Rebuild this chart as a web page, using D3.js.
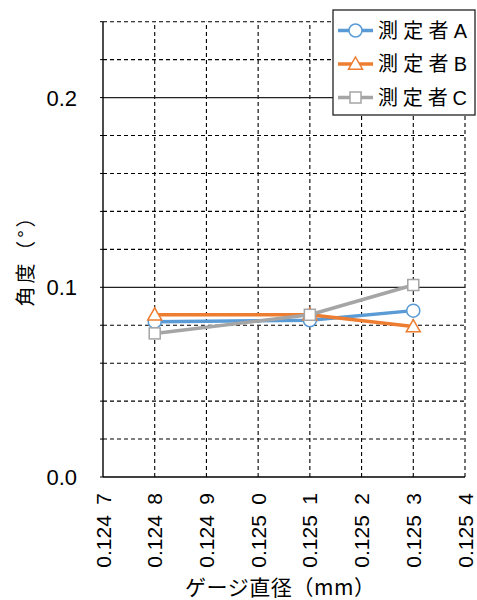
<!DOCTYPE html>
<html>
<head>
<meta charset="utf-8">
<script src="https://cdn.jsdelivr.net/npm/d3@7"></script>
<style>
  html, body { margin: 0; padding: 0; background: #fff; }
  svg { display: block; font-family: "Liberation Sans", Arial, "Noto Sans CJK JP", sans-serif; }
</style>
</head>
<body>
<script>
// Gauge diameters (mm) where each operator measured
const categories = [0.1248, 0.1251, 0.1253];
// Measured angle (°) per operator
const seriesA = [0.0819, 0.0826, 0.0877];
const seriesB = [0.0855, 0.0855, 0.0793];
const seriesC = [0.0757, 0.0855, 0.1012];
const seriesNames = ["測定者A", "測定者B", "測定者C"];
const seriesColors = ["#5B9BD5", "#ED7D31", "#A5A5A5"];
const seriesShapes = ["circle", "triangle", "square"];

// Axis ticks and their labels
const xTicks = [0.1247, 0.1248, 0.1249, 0.1250, 0.1251, 0.1252, 0.1253, 0.1254];
const xTickLabels = ["0.124 7", "0.124 8", "0.124 9", "0.125 0", "0.125 1", "0.125 2", "0.125 3", "0.125 4"];
const yMinorTicks = [0.02, 0.04, 0.06, 0.08, 0.12, 0.14, 0.16, 0.18, 0.22, 0.24];
const yMajorTicks = [0, 0.1, 0.2];
const yTickLabels = ["0.0", "0.1", "0.2"];

const W = 477, H = 600;
const svg = d3.select("body").append("svg").attr("width", W).attr("height", H);

const x = d3.scaleLinear().domain([0.1247, 0.1254]).range([103, 465]);
const y = d3.scaleLinear().domain([0, 0.24]).range([477, 21.7]);

const CJK = "'Noto Sans CJK JP', sans-serif";

// Dashed grid: vertical lines at every x tick, horizontal at every 0.02
const grid = svg.append("g");
grid.selectAll("line.vx").data(xTicks.slice(1)).join("line")
  .attr("x1", d => x(d)).attr("x2", d => x(d))
  .attr("y1", y(0)).attr("y2", y(0.24))
  .attr("stroke", "#000").attr("stroke-width", 1.1).attr("stroke-dasharray", "4,3");
grid.selectAll("line.hm").data(yMinorTicks).join("line")
  .attr("x1", x(0.1247)).attr("x2", x(0.1254))
  .attr("y1", d => y(d)).attr("y2", d => y(d))
  .attr("stroke", "#000").attr("stroke-width", 1.1).attr("stroke-dasharray", "4,3");
grid.selectAll("line.hM").data(yMajorTicks.slice(1)).join("line")
  .attr("x1", x(0.1247)).attr("x2", x(0.1254))
  .attr("y1", d => y(d)).attr("y2", d => y(d))
  .attr("stroke", "#222").attr("stroke-width", 1.2);

// Axes lines
svg.append("line").attr("x1", x(0.1247)).attr("x2", x(0.1247))
  .attr("y1", y(0.24)).attr("y2", y(0)).attr("stroke", "#000").attr("stroke-width", 1.4);
svg.append("line").attr("x1", x(0.1247)).attr("x2", x(0.1254))
  .attr("y1", y(0)).attr("y2", y(0)).attr("stroke", "#000").attr("stroke-width", 1.4);

// Small outward ticks on the y axis
svg.selectAll("line.yt").data(yMinorTicks.concat(yMajorTicks)).join("line")
  .attr("x1", x(0.1247) - 3).attr("x2", x(0.1247))
  .attr("y1", d => y(d)).attr("y2", d => y(d))
  .attr("stroke", "#000").attr("stroke-width", 1);

// Y tick labels
svg.selectAll("text.yl").data(yMajorTicks).join("text")
  .attr("x", 77).attr("y", d => y(d)).attr("dy", "0.36em")
  .attr("text-anchor", "end").attr("font-size", 22).attr("fill", "#000")
  .text((d, i) => yTickLabels[i]);

// X tick labels, rotated
svg.selectAll("text.xl").data(xTicks).join("text")
  .attr("transform", d => `translate(${x(d)},493) rotate(-90)`)
  .attr("dy", "0.36em")
  .attr("text-anchor", "end").attr("font-size", 21).attr("fill", "#000")
  .style("white-space", "pre")
  .text((d, i) => xTickLabels[i].replace(" ", "\u2002"));

// Axis titles
svg.append("text")
  .attr("transform", "translate(26,257) rotate(-90)")
  .attr("dy", "0.35em").attr("text-anchor", "middle")
  .attr("font-family", CJK).attr("font-size", 20).attr("fill", "#000")
  .attr("textLength", 99).attr("lengthAdjust", "spacing")
  .text("角度（°）");
svg.append("text")
  .attr("x", 280).attr("y", 588).attr("dy", "0.35em").attr("text-anchor", "middle")
  .attr("font-family", CJK).attr("font-size", 21).attr("fill", "#000")
  .attr("textLength", 190).attr("lengthAdjust", "spacing")
  .text("ゲージ直径（mm）");

// Marker drawing helper
function marker(g, shape, color, cx, cy) {
  if (shape === "circle") {
    g.append("circle").attr("cx", cx).attr("cy", cy).attr("r", 6.5)
      .attr("fill", "#fff").attr("stroke", color).attr("stroke-width", 1.5);
  } else if (shape === "triangle") {
    const s = 7;
    g.append("path")
      .attr("d", `M${cx},${cy - s} L${cx + s},${cy + s * 0.75} L${cx - s},${cy + s * 0.75} Z`)
      .attr("fill", "#fff").attr("stroke", color).attr("stroke-width", 1.5);
  } else {
    g.append("rect").attr("x", cx - 5.5).attr("y", cy - 5.5).attr("width", 11).attr("height", 11)
      .attr("fill", "#fff").attr("stroke", color).attr("stroke-width", 1.5);
  }
}

// Series lines and markers
const allSeries = [seriesA, seriesB, seriesC];
const line = d3.line().x((d, i) => x(categories[i])).y(d => y(d));
allSeries.forEach((vals, k) => {
  const g = svg.append("g");
  g.append("path").datum(vals).attr("d", line)
    .attr("fill", "none").attr("stroke", seriesColors[k]).attr("stroke-width", 3.5)
    .attr("stroke-linejoin", "round");
  vals.forEach((v, i) => marker(g, seriesShapes[k], seriesColors[k], x(categories[i]), y(v)));
});

// Legend
const lg = svg.append("g");
lg.append("rect").attr("x", 333).attr("y", 10).attr("width", 142).attr("height", 105)
  .attr("fill", "#fff").attr("stroke", "#222").attr("stroke-width", 1.3);
const legendY = [30.5, 64, 97.5];
seriesNames.forEach((name, k) => {
  const ly = legendY[k];
  lg.append("line").attr("x1", 338).attr("x2", 373).attr("y1", ly).attr("y2", ly)
    .attr("stroke", seriesColors[k]).attr("stroke-width", 3.5);
  marker(lg, seriesShapes[k], seriesColors[k], 355.5, ly);
  lg.append("text").attr("x", 378).attr("y", ly).attr("dy", "0.36em")
    .attr("font-size", 20).attr("fill", "#000")
    .attr("textLength", 89).attr("lengthAdjust", "spacing")
    .attr("font-family", "'Liberation Sans', 'Noto Sans CJK JP', sans-serif")
    .text(name);
});
</script>
</body>
</html>
